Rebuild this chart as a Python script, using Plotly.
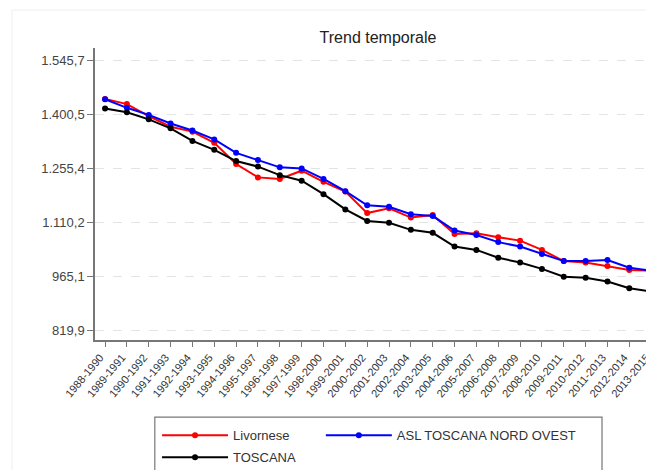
import plotly.graph_objects as go

periods = ["1988-1990", "1989-1991", "1990-1992", "1991-1993", "1992-1994", "1993-1995",
           "1994-1996", "1995-1997", "1996-1998", "1997-1999", "1998-2000", "1999-2001",
           "2000-2002", "2001-2003", "2002-2004", "2003-2005", "2004-2006", "2005-2007",
           "2006-2008", "2007-2009", "2008-2010", "2009-2011", "2010-2012", "2011-2013",
           "2012-2014", "2013-2015"]

livornese = [1443, 1429, 1397, 1368, 1355, 1325, 1268, 1232, 1228, 1250, 1220, 1194,
             1136, 1149, 1124, 1131, 1080, 1082, 1071, 1062, 1037, 1007, 1003, 994, 983, 981]
asl_nord_ovest = [1442, 1419, 1400, 1377, 1358, 1334, 1298, 1279, 1259, 1256, 1228, 1195,
                  1157, 1153, 1133, 1128, 1089, 1077, 1058, 1046, 1026, 1007, 1007, 1010, 989, 981]
toscana = [1417, 1407, 1388, 1364, 1330, 1306, 1276, 1261, 1238, 1223, 1187, 1146,
           1115, 1110, 1091, 1083, 1046, 1037, 1016, 1003, 986, 965, 962, 952, 934, 925]

ytick_vals = [819.9, 965.1, 1110.2, 1255.4, 1400.5, 1545.7]
ytick_text = ["819,9", "965,1", "1.110,2", "1.255,4", "1.400,5", "1.545,7"]

FONT = "Liberation Sans, Arial, sans-serif"

fig = go.Figure()
series = [
    ("Livornese", livornese, "#ff0000", "legend"),
    ("ASL TOSCANA NORD OVEST", asl_nord_ovest, "#0000ff", "legend3"),
    ("TOSCANA", toscana, "#000000", "legend2"),
]
x_idx = list(range(len(periods)))
for name, vals, col, lg in series:
    fig.add_trace(go.Scatter(
        x=x_idx, y=vals, name=name, mode="lines+markers",
        line=dict(color=col, width=2),
        marker=dict(color=col, size=6, symbol="circle"),
        legend=lg, showlegend=True,
    ))

legend_common = dict(orientation="h", xanchor="left", yanchor="top",
                     bgcolor="rgba(0,0,0,0)", font=dict(size=13, color="#333333", family=FONT),
                     itemwidth=66, visible=True)

fig.update_layout(
    width=654, height=470,
    showlegend=True,
    margin=dict(l=87, r=8, t=40, b=138, autoexpand=False),
    paper_bgcolor="white", plot_bgcolor="white",
    font=dict(family=FONT, color="#333333"),
    title=dict(text="Trend temporale", x=370 / 654, xanchor="center",
               y=1 - 29 / 470, yanchor="middle", font=dict(size=16, color="#222222", family=FONT)),
    xaxis=dict(
        range=[-0.46, 25.13], tickmode="array", tickvals=x_idx, ticktext=periods,
        tickangle=-50, tickfont=dict(size=11, color="#333333"),
        ticklabeloverflow="allow", ticklabelshift=-5,
        showgrid=False, zeroline=False,
        showline=True, linecolor="#777777", linewidth=1.5,
        ticks="outside", ticklen=5, tickcolor="#777777",
    ),
    yaxis=dict(
        range=[794.9, 1579.8], tickmode="array", tickvals=ytick_vals, ticktext=ytick_text,
        tickfont=dict(size=13, color="#444444"),
        showgrid=True, gridcolor="#e4e4e4", griddash="dash", gridwidth=1,
        zeroline=False, showline=True, linecolor="#777777", linewidth=1.5,
        ticks="outside", ticklen=6, tickcolor="#777777",
    ),
    legend=dict(x=0.111, y=-0.275, **legend_common),
    legend3=dict(x=0.404, y=-0.275, **legend_common),
    legend2=dict(x=0.111, y=-0.35, **legend_common),
    shapes=[
        dict(type="rect", xref="paper", yref="paper", x0=0.107, x1=0.907, y0=-0.48, y1=-0.264,
             line=dict(color="#777777", width=1.2), fillcolor="rgba(0,0,0,0)", layer="above"),
        dict(type="rect", xref="paper", yref="paper", x0=-0.1485, x1=1.05, y0=-0.5, y1=1.13,
             line=dict(color="#eeeeee", width=1), fillcolor="rgba(0,0,0,0)", layer="below"),
    ],
)

fig.write_html("out.html")
